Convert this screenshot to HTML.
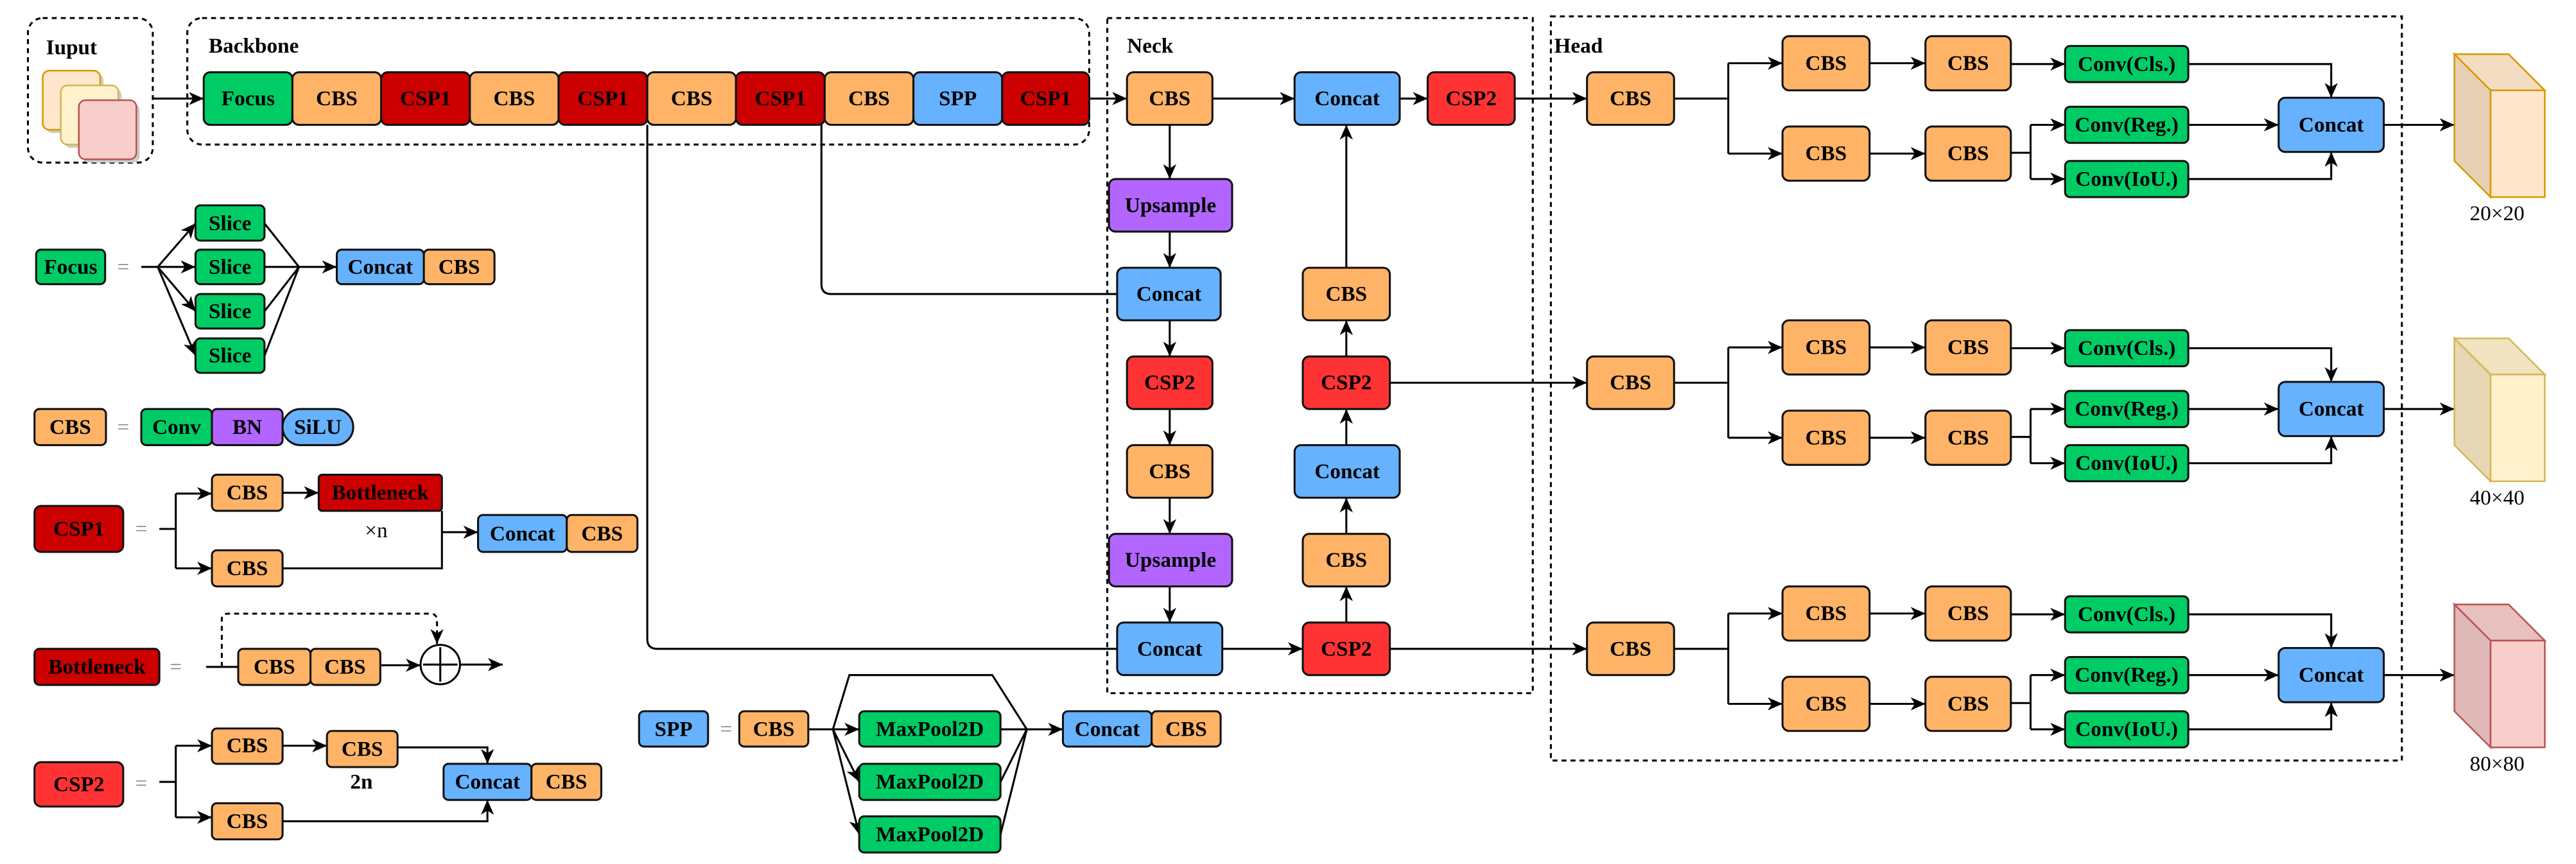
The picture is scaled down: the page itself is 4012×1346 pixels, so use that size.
<!DOCTYPE html>
<html><head><meta charset="utf-8"><style>
html,body{margin:0;padding:0;background:#fff;}
svg{display:block;}
.b{stroke:#111;stroke-width:1.2;}
.or{fill:#ffb366;}.rd{fill:#cc0000;}.gr{fill:#00cc66;}.bl{fill:#66b2ff;}.pu{fill:#b266ff;}.r2{fill:#ff3333;}
text{font-family:"Liberation Serif",serif;font-weight:bold;font-size:13px;text-anchor:middle;dominant-baseline:central;fill:#000;}
.l{fill:none;stroke:#000;stroke-width:1.2;}
.a{fill:none;stroke:#000;stroke-width:1.2;marker-end:url(#ar);}
.d{fill:none;stroke:#000;stroke-width:1.2;stroke-dasharray:3,2.5;}
.t{text-anchor:start;}
.n{font-weight:normal;}
</style></head><body>
<svg width="4012" height="1346" viewBox="0 0 1568 526" preserveAspectRatio="none" xmlns="http://www.w3.org/2000/svg">
<defs>
<marker id="ar" markerUnits="userSpaceOnUse" markerWidth="10" markerHeight="8" refX="9" refY="4" orient="auto">
<path d="M0,0 L9,4 L0,8 L2.5,4 z" fill="#000"/></marker>
</defs>

<!-- Input -->
<rect x="17" y="11" width="76" height="88" rx="9" class="d"/>
<text x="28" y="29" class="t">Iuput</text>
<rect x="28" y="45" width="35" height="36" rx="4" fill="#ccc"/>
<rect x="26" y="43" width="35" height="36" rx="4" fill="#ffe6cc" stroke="#d79b00" stroke-width="1"/>
<rect x="39" y="54" width="35" height="36" rx="4" fill="#ccc"/>
<rect x="37" y="52" width="35" height="36" rx="4" fill="#fff2cc" stroke="#d6b656" stroke-width="1"/>
<rect x="50" y="63" width="35" height="36" rx="4" fill="#ccc"/>
<rect x="48" y="61" width="35" height="36" rx="4" fill="#f8cecc" stroke="#b85450" stroke-width="1"/>
<path d="M93,60 H124" class="a"/>

<!-- Backbone -->
<rect x="114" y="11" width="549" height="77" rx="9" class="d"/>
<text x="127" y="28" class="t">Backbone</text>
<rect x="124" y="44" width="54" height="32" rx="4" class="b gr"/><text x="151" y="60">Focus</text>
<rect x="178" y="44" width="54" height="32" rx="4" class="b or"/><text x="205" y="60">CBS</text>
<rect x="232" y="44" width="54" height="32" rx="4" class="b rd"/><text x="259" y="60">CSP1</text>
<rect x="286" y="44" width="54" height="32" rx="4" class="b or"/><text x="313" y="60">CBS</text>
<rect x="340" y="44" width="54" height="32" rx="4" class="b rd"/><text x="367" y="60">CSP1</text>
<rect x="394" y="44" width="54" height="32" rx="4" class="b or"/><text x="421" y="60">CBS</text>
<rect x="448" y="44" width="54" height="32" rx="4" class="b rd"/><text x="475" y="60">CSP1</text>
<rect x="502" y="44" width="54" height="32" rx="4" class="b or"/><text x="529" y="60">CBS</text>
<rect x="556" y="44" width="54" height="32" rx="4" class="b bl"/><text x="583" y="60">SPP</text>
<rect x="610" y="44" width="53" height="32" rx="4" class="b rd"/><text x="636.5" y="60">CSP1</text>
<path d="M663,60 H686" class="a"/>
<path d="M500,76 V173 Q500,179 506,179 H680" class="l"/>
<path d="M394,76 V389 Q394,395 400,395 H680" class="l"/>

<!-- Neck -->
<rect x="674" y="11" width="259" height="411" class="d"/>
<text x="686" y="28" class="t">Neck</text>
<rect x="686" y="44" width="52" height="32" rx="4" class="b or"/><text x="712" y="60">CBS</text>
<rect x="788" y="44" width="64" height="32" rx="4" class="b bl"/><text x="820" y="60">Concat</text>
<rect x="869" y="44" width="53" height="32" rx="4" class="b r2"/><text x="895.5" y="60">CSP2</text>
<path d="M738,60 H788" class="a"/>
<path d="M852,60 H869" class="a"/>
<path d="M922,60 H966" class="a"/>
<rect x="675" y="109" width="75" height="32" rx="4" class="b pu"/><text x="712.5" y="125">Upsample</text>
<rect x="680" y="163" width="63" height="32" rx="4" class="b bl"/><text x="711.5" y="179">Concat</text>
<rect x="686" y="217" width="52" height="32" rx="4" class="b r2"/><text x="712" y="233">CSP2</text>
<rect x="686" y="271" width="52" height="32" rx="4" class="b or"/><text x="712" y="287">CBS</text>
<rect x="675" y="325" width="75" height="32" rx="4" class="b pu"/><text x="712.5" y="341">Upsample</text>
<rect x="680" y="379" width="64" height="32" rx="4" class="b bl"/><text x="712" y="395">Concat</text>
<path d="M712,76 V109" class="a"/>
<path d="M712,141 V163" class="a"/>
<path d="M712,195 V217" class="a"/>
<path d="M712,249 V271" class="a"/>
<path d="M712,303 V325" class="a"/>
<path d="M712,357 V379" class="a"/>
<rect x="793" y="163" width="53" height="32" rx="4" class="b or"/><text x="819.5" y="179">CBS</text>
<rect x="793" y="217" width="53" height="32" rx="4" class="b r2"/><text x="819.5" y="233">CSP2</text>
<rect x="788" y="271" width="64" height="32" rx="4" class="b bl"/><text x="820" y="287">Concat</text>
<rect x="793" y="325" width="53" height="32" rx="4" class="b or"/><text x="819.5" y="341">CBS</text>
<rect x="793" y="379" width="53" height="32" rx="4" class="b r2"/><text x="819.5" y="395">CSP2</text>
<path d="M744,395 H793" class="a"/>
<path d="M819.5,379 V357" class="a"/>
<path d="M819.5,325 V303" class="a"/>
<path d="M819.5,271 V249" class="a"/>
<path d="M819.5,217 V195" class="a"/>
<path d="M819.5,163 V76" class="a"/>
<path d="M846,233 H966" class="a"/>
<path d="M846,395 H966" class="a"/>

<!-- Head -->
<rect x="944" y="10" width="518" height="453" class="d"/>
<text x="946" y="28" class="t">Head</text>

<g id="g1">
<rect x="966" y="44" width="53" height="32" rx="4" class="b or"/><text x="992.5" y="60">CBS</text>
<path d="M1019,60 H1052 M1052,38.5 V93.5" class="l"/>
<path d="M1052,38.5 H1085" class="a"/><path d="M1052,93.5 H1085" class="a"/>
<rect x="1085" y="22" width="53" height="33" rx="4" class="b or"/><text x="1111.5" y="38.5">CBS</text>
<rect x="1085" y="77" width="53" height="33" rx="4" class="b or"/><text x="1111.5" y="93.5">CBS</text>
<path d="M1138,38.5 H1172" class="a"/><path d="M1138,93.5 H1172" class="a"/>
<rect x="1172" y="22" width="52" height="33" rx="4" class="b or"/><text x="1198" y="38.5">CBS</text>
<rect x="1172" y="77" width="52" height="33" rx="4" class="b or"/><text x="1198" y="93.5">CBS</text>
<path d="M1224,39 H1257" class="a"/>
<rect x="1257" y="28" width="75" height="22" rx="3" class="b gr"/><text x="1294.5" y="39">Conv(Cls.)</text>
<path d="M1332,39 H1419 V59.5" class="a"/>
<path d="M1224,93 H1236 M1236,76 V109" class="l"/>
<path d="M1236,76 H1257" class="a"/><path d="M1236,109 H1257" class="a"/>
<rect x="1257" y="65" width="75" height="22" rx="3" class="b gr"/><text x="1294.5" y="76">Conv(Reg.)</text>
<rect x="1257" y="98" width="75" height="22" rx="3" class="b gr"/><text x="1294.5" y="109">Conv(IoU.)</text>
<path d="M1332,76 H1387" class="a"/>
<path d="M1332,109 H1419 V92.5" class="a"/>
<rect x="1387" y="59.5" width="64" height="33" rx="4" class="b bl"/><text x="1419" y="76">Concat</text>
<path d="M1451,76 H1494" class="a"/>
</g>
<polygon points="1494,33 1527,33 1549,55 1516,55" fill="#f2dcc2" stroke="#d79b00" stroke-width="1"/>
<polygon points="1494,33 1516,55 1516,120 1494,98" fill="#e8d0b5" stroke="#d79b00" stroke-width="1"/>
<rect x="1516" y="55" width="33" height="65" fill="#ffe6cc" stroke="#d79b00" stroke-width="1"/>
<text x="1520" y="130" class="n">20×20</text>

<g transform="translate(0,173)">
<rect x="966" y="44" width="53" height="32" rx="4" class="b or"/><text x="992.5" y="60">CBS</text>
<path d="M1019,60 H1052 M1052,38.5 V93.5" class="l"/>
<path d="M1052,38.5 H1085" class="a"/><path d="M1052,93.5 H1085" class="a"/>
<rect x="1085" y="22" width="53" height="33" rx="4" class="b or"/><text x="1111.5" y="38.5">CBS</text>
<rect x="1085" y="77" width="53" height="33" rx="4" class="b or"/><text x="1111.5" y="93.5">CBS</text>
<path d="M1138,38.5 H1172" class="a"/><path d="M1138,93.5 H1172" class="a"/>
<rect x="1172" y="22" width="52" height="33" rx="4" class="b or"/><text x="1198" y="38.5">CBS</text>
<rect x="1172" y="77" width="52" height="33" rx="4" class="b or"/><text x="1198" y="93.5">CBS</text>
<path d="M1224,39 H1257" class="a"/>
<rect x="1257" y="28" width="75" height="22" rx="3" class="b gr"/><text x="1294.5" y="39">Conv(Cls.)</text>
<path d="M1332,39 H1419 V59.5" class="a"/>
<path d="M1224,93 H1236 M1236,76 V109" class="l"/>
<path d="M1236,76 H1257" class="a"/><path d="M1236,109 H1257" class="a"/>
<rect x="1257" y="65" width="75" height="22" rx="3" class="b gr"/><text x="1294.5" y="76">Conv(Reg.)</text>
<rect x="1257" y="98" width="75" height="22" rx="3" class="b gr"/><text x="1294.5" y="109">Conv(IoU.)</text>
<path d="M1332,76 H1387" class="a"/>
<path d="M1332,109 H1419 V92.5" class="a"/>
<rect x="1387" y="59.5" width="64" height="33" rx="4" class="b bl"/><text x="1419" y="76">Concat</text>
<path d="M1451,76 H1494" class="a"/>
<polygon points="1494,33 1527,33 1549,55 1516,55" fill="#f0e3bf" stroke="#d6b656" stroke-width="1"/>
<polygon points="1494,33 1516,55 1516,120 1494,98" fill="#e6d8b4" stroke="#d6b656" stroke-width="1"/>
<rect x="1516" y="55" width="33" height="65" fill="#fff2cc" stroke="#d6b656" stroke-width="1"/>
<text x="1520" y="130" class="n">40×40</text>
</g>

<g transform="translate(0,335)">
<rect x="966" y="44" width="53" height="32" rx="4" class="b or"/><text x="992.5" y="60">CBS</text>
<path d="M1019,60 H1052 M1052,38.5 V93.5" class="l"/>
<path d="M1052,38.5 H1085" class="a"/><path d="M1052,93.5 H1085" class="a"/>
<rect x="1085" y="22" width="53" height="33" rx="4" class="b or"/><text x="1111.5" y="38.5">CBS</text>
<rect x="1085" y="77" width="53" height="33" rx="4" class="b or"/><text x="1111.5" y="93.5">CBS</text>
<path d="M1138,38.5 H1172" class="a"/><path d="M1138,93.5 H1172" class="a"/>
<rect x="1172" y="22" width="52" height="33" rx="4" class="b or"/><text x="1198" y="38.5">CBS</text>
<rect x="1172" y="77" width="52" height="33" rx="4" class="b or"/><text x="1198" y="93.5">CBS</text>
<path d="M1224,39 H1257" class="a"/>
<rect x="1257" y="28" width="75" height="22" rx="3" class="b gr"/><text x="1294.5" y="39">Conv(Cls.)</text>
<path d="M1332,39 H1419 V59.5" class="a"/>
<path d="M1224,93 H1236 M1236,76 V109" class="l"/>
<path d="M1236,76 H1257" class="a"/><path d="M1236,109 H1257" class="a"/>
<rect x="1257" y="65" width="75" height="22" rx="3" class="b gr"/><text x="1294.5" y="76">Conv(Reg.)</text>
<rect x="1257" y="98" width="75" height="22" rx="3" class="b gr"/><text x="1294.5" y="109">Conv(IoU.)</text>
<path d="M1332,76 H1387" class="a"/>
<path d="M1332,109 H1419 V92.5" class="a"/>
<rect x="1387" y="59.5" width="64" height="33" rx="4" class="b bl"/><text x="1419" y="76">Concat</text>
<path d="M1451,76 H1494" class="a"/>
<polygon points="1494,33 1527,33 1549,55 1516,55" fill="#e8c0c0" stroke="#b85450" stroke-width="1"/>
<polygon points="1494,33 1516,55 1516,120 1494,98" fill="#dfb8b8" stroke="#b85450" stroke-width="1"/>
<rect x="1516" y="55" width="33" height="65" fill="#f8cecc" stroke="#b85450" stroke-width="1"/>
<text x="1520" y="130" class="n">80×80</text>
</g>

<!-- Focus legend -->
<rect x="22" y="152" width="42" height="21" rx="3" class="b gr"/><text x="43" y="162.5">Focus</text>
<text x="75" y="162.5" class="n" fill="#888" style="fill:#888">=</text>
<path d="M86,162.5 H96" class="l"/>
<path d="M96,162.5 L119,136" class="a"/>
<path d="M96,162.5 L119,162.5" class="a"/>
<path d="M96,162.5 L119,189.5" class="a"/>
<path d="M96,162.5 L119,216.5" class="a"/>
<rect x="119" y="125" width="42" height="21.5" rx="3" class="b gr"/><text x="140" y="136">Slice</text>
<rect x="119" y="152" width="42" height="21" rx="3" class="b gr"/><text x="140" y="162.5">Slice</text>
<rect x="119" y="179" width="42" height="21" rx="3" class="b gr"/><text x="140" y="189.5">Slice</text>
<rect x="119" y="206" width="42" height="21" rx="3" class="b gr"/><text x="140" y="216.5">Slice</text>
<path d="M161,136 L182,162.5 M161,162.5 L182,162.5 M161,189.5 L182,162.5 M161,216.5 L182,162.5" class="l"/>
<path d="M182,162.5 H205" class="a"/>
<rect x="205" y="152" width="53" height="21" rx="3" class="b bl"/><text x="231.5" y="162.5">Concat</text>
<rect x="258" y="152" width="43" height="21" rx="3" class="b or"/><text x="279.5" y="162.5">CBS</text>

<!-- CBS legend -->
<rect x="21" y="249" width="43.5" height="22" rx="3" class="b or"/><text x="42.75" y="260">CBS</text>
<text x="75" y="260" class="n" style="fill:#888">=</text>
<rect x="86" y="249" width="43" height="22" rx="3" class="b gr"/><text x="107.5" y="260">Conv</text>
<rect x="129" y="249" width="43" height="22" rx="3" class="b pu"/><text x="150.5" y="260">BN</text>
<rect x="172" y="249" width="43" height="22" rx="11" class="b bl"/><text x="193.5" y="260">SiLU</text>

<!-- CSP1 legend -->
<rect x="21" y="308" width="54" height="28" rx="4" class="b rd"/><text x="48" y="322">CSP1</text>
<text x="86" y="322" class="n" style="fill:#888">=</text>
<path d="M97,322 H107 M107,300.5 V346" class="l"/>
<path d="M107,300.5 H129" class="a"/><path d="M107,346 H129" class="a"/>
<rect x="129" y="289" width="43" height="22" rx="3" class="b or"/><text x="150.5" y="300">CBS</text>
<path d="M172,300 H194" class="a"/>
<rect x="194" y="289" width="75" height="22" rx="2" class="b rd"/><text x="231.5" y="300">Bottleneck</text>
<text x="229" y="323" class="n">×n</text>
<rect x="129" y="335" width="43" height="22" rx="3" class="b or"/><text x="150.5" y="346">CBS</text>
<path d="M172,346 H269 V311" class="l"/>
<path d="M269,324 H291" class="a"/>
<rect x="291" y="313.5" width="54" height="22.5" rx="3" class="b bl"/><text x="318" y="325">Concat</text>
<rect x="345" y="313.5" width="43" height="22.5" rx="3" class="b or"/><text x="366.5" y="325">CBS</text>

<!-- Bottleneck legend -->
<rect x="21" y="395" width="76" height="22" rx="3" class="b rd"/><text x="59" y="406">Bottleneck</text>
<text x="107" y="406" class="n" style="fill:#888">=</text>
<path d="M125.5,406 H145" class="l"/>
<path d="M135,406 V377 Q135,373.6 139,373.6 H262 Q266,373.6 266,378 V392" class="d" marker-end="url(#ar)"/>
<rect x="145" y="395" width="44" height="22" rx="3" class="b or"/><text x="167" y="406">CBS</text>
<rect x="189" y="395" width="42.5" height="22" rx="3" class="b or"/><text x="210" y="406">CBS</text>
<path d="M231.5,405 H256" class="a"/>
<circle cx="268" cy="404.6" r="12" fill="#fff" stroke="#000" stroke-width="1.2"/>
<path d="M268,394 V415 M257.5,404.6 H278.5" class="l"/>
<path d="M280,404.6 H306" class="a"/>

<!-- CSP2 legend -->
<rect x="21" y="464" width="54" height="27" rx="4" class="b r2"/><text x="48" y="477.5">CSP2</text>
<text x="86" y="477" class="n" style="fill:#888">=</text>
<path d="M97,476 H107 M107,454 V497.6" class="l"/>
<path d="M107,454 H129" class="a"/><path d="M107,497.6 H129" class="a"/>
<rect x="129" y="443.5" width="43" height="21.5" rx="3" class="b or"/><text x="150.5" y="454">CBS</text>
<path d="M172,454 H199" class="a"/>
<rect x="199" y="445" width="43" height="22" rx="3" class="b or"/><text x="220.5" y="456">CBS</text>
<text x="220" y="476">2n</text>
<path d="M242,455 H296.7 V465" class="a"/>
<rect x="129" y="489" width="43" height="22" rx="3" class="b or"/><text x="150.5" y="500">CBS</text>
<path d="M172,500 H296.7 V487" class="a"/>
<rect x="270" y="465" width="53.5" height="22" rx="3" class="b bl"/><text x="296.75" y="476">Concat</text>
<rect x="323.5" y="465" width="42.5" height="22" rx="3" class="b or"/><text x="344.75" y="476">CBS</text>

<!-- SPP legend -->
<rect x="389" y="433" width="42" height="21.5" rx="3" class="b bl"/><text x="410" y="444">SPP</text>
<text x="442" y="444" class="n" style="fill:#888">=</text>
<rect x="450" y="433" width="42" height="21.5" rx="3" class="b or"/><text x="471" y="444">CBS</text>
<path d="M492,444 H507" class="l"/>
<path d="M507,444 L517,411 H604 L625,444" class="l"/>
<path d="M507,444 H523" class="a"/>
<path d="M507,444 L523,476" class="a"/>
<path d="M507,444 L523,508" class="a"/>
<rect x="523" y="433" width="86" height="21.5" rx="3" class="b gr"/><text x="566" y="444">MaxPool2D</text>
<rect x="523" y="465" width="86" height="22" rx="3" class="b gr"/><text x="566" y="476">MaxPool2D</text>
<rect x="523" y="497" width="86" height="22" rx="3" class="b gr"/><text x="566" y="508">MaxPool2D</text>
<path d="M609,444 H625 M609,476 L625,444 M609,508 L625,444" class="l"/>
<path d="M625,444 H647" class="a"/>
<rect x="647" y="433" width="54" height="21.5" rx="3" class="b bl"/><text x="674" y="444">Concat</text>
<rect x="701" y="433" width="42" height="21.5" rx="3" class="b or"/><text x="722" y="444">CBS</text>
</svg>
</body></html>
